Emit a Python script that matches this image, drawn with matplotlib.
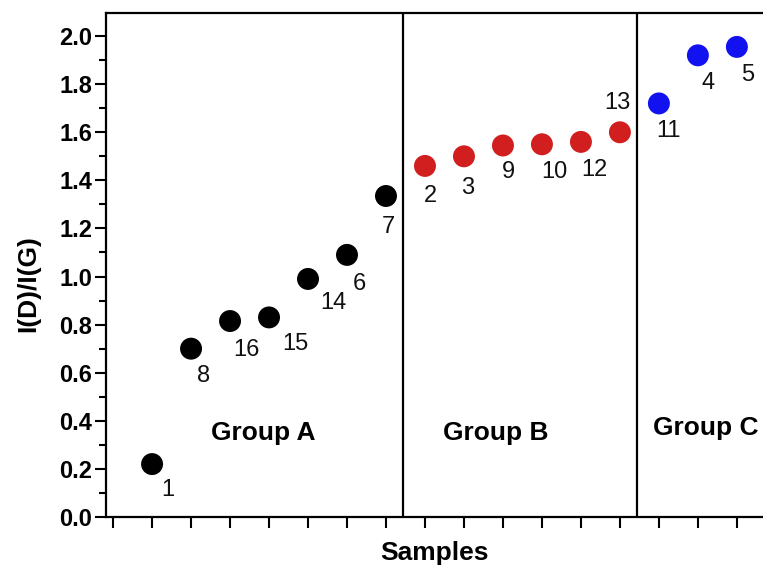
import matplotlib.pyplot as plt
import numpy as np

plt.rcParams['font.family'] = ['Liberation Sans', 'DejaVu Sans']

# muestras ordenadas por I(D)/I(G)
samples = ["1", "8", "16", "15", "14", "6", "7",
           "2", "3", "9", "10", "12", "13",
           "11", "4", "5"]
ratio = [0.22, 0.70, 0.815, 0.83, 0.99, 1.09, 1.335,
         1.46, 1.50, 1.545, 1.55, 1.56, 1.60,
         1.72, 1.92, 1.955]
group = ["A"] * 7 + ["B"] * 6 + ["C"] * 3

colores = {"A": "#000000", "B": "#d11f1f", "C": "#1212f0"}

# desplazamiento de cada etiqueta (en puntos)
offsets = [(11, -19), (9, -20), (12, -21), (19, -19), (18, -17), (9, -21), (2, -22),
           (4, -22), (3, -23), (4, -19), (9, -20), (10, -20), (-2, 21),
           (7, -20), (7, -20), (8, -20)]

fig = plt.figure(figsize=(7.63, 5.68), dpi=100)
ax = fig.add_axes([0.139, 0.0898, 0.861, 0.8873])

x = np.arange(1, len(samples) + 1)
for xi, yi, g in zip(x, ratio, group):
    ax.scatter(xi, yi, s=250, color=colores[g], edgecolors="none", zorder=3)

for xi, yi, s, off in zip(x, ratio, samples, offsets):
    ax.annotate(s, (xi, yi), xytext=off, textcoords="offset points",
                ha="center", va="center", fontsize=17, color="#111111")

# separacion entre grupos
for xv in [7.44, 13.44]:
    ax.axvline(xv, color="black", lw=1.6)

ax.text(3.85, 0.35, "Group A", ha="center", va="center", fontsize=19, fontweight="bold")
ax.text(9.82, 0.35, "Group B", ha="center", va="center", fontsize=19, fontweight="bold")
ax.text(15.2, 0.37, "Group C", ha="center", va="center", fontsize=19, fontweight="bold")

ax.set_xlim(-0.18, 16.67)
ax.set_ylim(0, 2.096)
ax.set_xticks(np.arange(0, 17))
ax.set_xticklabels([])
ax.set_yticks(np.arange(0, 2.01, 0.2))
ax.set_yticklabels([f"{v:.1f}" for v in np.arange(0, 2.01, 0.2)],
                   fontsize=17, fontweight="bold")
ax.set_yticks(np.arange(0.1, 2.01, 0.2), minor=True)
ax.tick_params(axis="y", which="major", length=8, width=1.5, direction="out", pad=2)
ax.tick_params(axis="y", which="minor", length=5, width=1.5, direction="out")
ax.tick_params(axis="x", length=8, width=1.5, direction="out")

for side in ["left", "bottom", "top"]:
    ax.spines[side].set_linewidth(1.6)
ax.spines["right"].set_visible(False)

ax.set_xlabel("Samples", fontsize=19, fontweight="bold", labelpad=6)
ax.set_ylabel("I(D)/I(G)", fontsize=19, fontweight="bold")
ax.yaxis.set_label_coords(-0.1, 0.464)

fig.savefig("out.png", dpi=100)
